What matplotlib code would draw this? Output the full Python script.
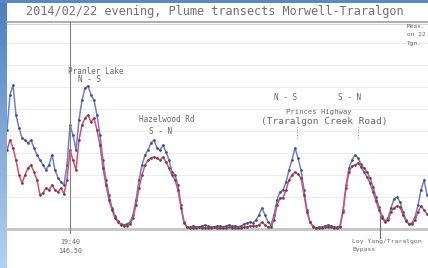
#!/usr/bin/env python
# Plume transects Morwell-Traralgon, evening of 2014/02/22.

import matplotlib.pyplot as plt
import numpy as np

font = 'DejaVu Sans Mono'
grey = '#666666'

# concentration along the transect (sample number -> ppb above background)
blue = [99, 134, 144, 114, 101, 91, 89, 86, 89, 81, 74, 69, 64, 59, 64, 74, 59, 51, 47, 44,
        64, 104, 94, 79, 109, 129, 141, 143, 134, 129, 114, 94, 69, 49, 34, 21, 13, 8, 5, 4,
        5, 7, 14, 29, 49, 64, 74, 79, 86, 89, 81, 79, 84, 77, 69, 57, 54, 44, 24, 7, 2,
        2, 3, 2, 2, 3, 4, 3, 2, 2, 3, 3, 2, 3, 4, 3, 3, 2, 3, 5, 6, 7,
        6, 9, 14, 21, 14, 7, 4, 14, 29, 37, 39, 47, 59, 69, 81, 71, 59, 39, 19, 7, 3, 1,
        2, 2, 3, 4, 3, 2, 2, 3,
        19, 44, 61, 69, 74, 71, 65, 61, 57, 51, 42, 32, 22, 13, 8, 11, 21, 30, 32, 27,
        17, 9, 5, 6, 12, 24, 39, 49, 34]
red = [79, 89, 81, 69, 54, 46, 54, 61, 64, 57, 49, 34, 36, 41, 39, 44, 39, 37, 41, 35,
       49, 79, 69, 59, 89, 104, 111, 114, 107, 111, 99, 84, 61, 44, 29, 19, 11, 7, 4, 3,
       3, 5, 11, 24, 41, 54, 64, 69, 71, 72, 71, 69, 72, 67, 61, 54, 49, 39, 21, 6, 2,
       1, 1, 1, 2, 1, 1, 1, 1, 2, 1, 1, 1, 1, 2, 1, 1, 1, 1, 2, 2, 3,
       3, 3, 4, 7, 4, 2, 2, 9, 24, 31, 31, 39, 49, 54, 57, 55, 51, 34, 17, 7, 2, 1,
       1, 1, 2, 2, 2, 1, 1, 2,
       17, 41, 57, 63, 64, 66, 62, 57, 52, 46, 37, 28, 19, 11, 7, 9, 17, 21, 23, 22,
       14, 8, 5, 5, 9, 17, 23, 19, 15]
grid_levels = [32, 54, 76, 98, 120, 142, 164, 186]

x = np.arange(len(blue))

fig1 = plt.figure(figsize=(4.28, 2.68), dpi=100)
fig1.patch.set_facecolor('white')

# blue window frame (left strip + top strip)
frame = fig1.add_axes([0, 0, 7/428., 1])
cmap = plt.matplotlib.colors.LinearSegmentedColormap.from_list('f', ['#4f7dbd', '#b4d2ee'])
frame.imshow(np.linspace(0, 1, 100).reshape(-1, 1), aspect='auto', cmap=cmap, extent=[0, 1, 0, 1])
frame.axis('off')
top = fig1.add_axes([0, 1 - 3/268., 1, 3/268.])
top.set_facecolor('#5b88c2')
top.set_xticks([]); top.set_yticks([])
for s in top.spines.values():
    s.set_visible(False)

plot1 = fig1.add_axes([7/428., 39/268., 421/428., 207/268.])
plot1.set_xlim(0, 140.33)
plot1.set_ylim(0, 207)
plot1.set_yticks(grid_levels)
plot1.set_xticks([])
plot1.tick_params(length=0, labelleft=False)
plot1.grid(axis='y', color='#ececec', linewidth=0.7)
for s in plot1.spines.values():
    s.set_visible(False)
plot1.axhline(0, color='#c4c4c4', linewidth=2, clip_on=False)
plot1.axhline(207, color='#a0a0a0', linewidth=1.2, clip_on=False)
plot1.axhline(205.5, color='#d4d4d4', linewidth=0.8, clip_on=False)

plot1.plot(x, blue, color='#6f7fd0', linewidth=1.1, marker='.', markersize=1.8,
           markerfacecolor='#4a4a66', markeredgecolor='#4a4a66')
plot1.plot(x, red, color='#d8506c', linewidth=1.1, marker='.', markersize=1.8,
           markerfacecolor='#66404c', markeredgecolor='#66404c')

# markers
plot1.plot([21, 21], [-4, 207], color='#808080', linewidth=0.8, clip_on=False)
plot1.plot([124.3, 124.3], [-9, 13], color='#6a6a6a', linewidth=0.8, clip_on=False)
plot1.plot([96.7, 96.7], [91, 103], color='#8a8a8a', linewidth=0.7, linestyle=':')
plot1.plot([117, 117], [91, 103], color='#8a8a8a', linewidth=0.7, linestyle=':')

# labels
labels = [(29.7, 157, 'Pranler Lake', 5.6), (27.5, 149, 'N - S', 5.6),
          (53.3, 110, 'Hazelwood Rd', 5.6), (51.3, 98, 'S - N', 5.6),
          (93, 131, 'N - S', 5.6), (114.3, 131, 'S - N', 5.6),
          (104, 117, 'Princes Highway', 5.2), (105.7, 107, '(Traralgon Creek Road)', 6.8)]
for lx, ly, txt, fs in labels:
    plot1.text(lx, ly, txt, ha='center', va='center', fontsize=fs, color=grey, fontname=font)

for k, txt in enumerate(['Meas.', 'on 22', 'Tgn.']):
    plot1.text(133.3, 202 - 8*k, txt, ha='left', va='center', fontsize=4.4, color=grey,
               fontname=font, clip_on=False)

plot1.text(21, -13, '19:40', ha='center', va='center', fontsize=4.8, color=grey, fontname=font, clip_on=False)
plot1.text(21, -22, '146.50', ha='center', va='center', fontsize=4.8, color=grey, fontname=font, clip_on=False)
plot1.text(115, -13, 'Loy Yang/Traralgon', ha='left', va='center', fontsize=4.6, color=grey,
           fontname=font, clip_on=False)
plot1.text(115, -21, 'Bypass', ha='left', va='center', fontsize=4.6, color=grey, fontname=font, clip_on=False)

fig1.text(0.503, 1 - 12/268., '2014/02/22 evening, Plume transects Morwell-Traralgon',
          ha='center', va='center', fontsize=8.6, color='#707070', fontname=font)

fig1.savefig('out.png', dpi=100, facecolor='white')
